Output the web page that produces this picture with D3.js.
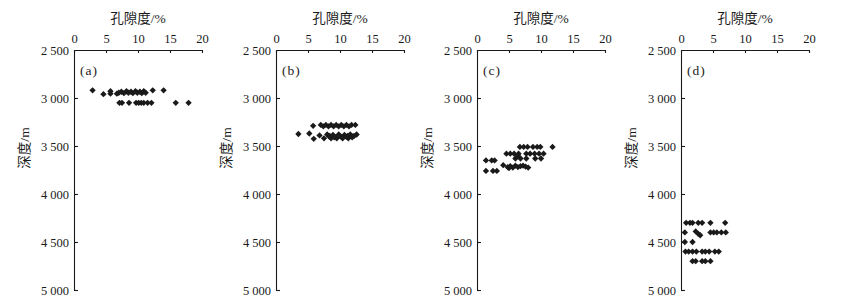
<!DOCTYPE html>
<html>
<head>
<meta charset="utf-8">
<script src="https://cdn.jsdelivr.net/npm/d3@7"></script>
<style>
  body { margin: 0; background: #fff; }
  svg { display: block; }
  text { font-family: "Liberation Serif", "Noto Sans CJK SC", serif; fill: #1a1a1a; }
  .domain, .tick line { stroke: #1a1a1a; stroke-width: 1.1; }
</style>
</head>
<body>
<svg id="chart" width="847" height="308"></svg>
<script>
// tick values
var porosityTicks = [0, 5, 10, 15, 20];
var depthTicks = [2500, 3000, 3500, 4000, 4500, 5000];
var panelLabels = ["(a)", "(b)", "(c)", "(d)"];

// (a) porosity %, depth m
var porosityA = [2.9, 12.3, 14.0, 4.6, 5.7, 5.7, 6.7, 7.0, 7.4, 7.8, 8.2, 8.5, 8.9, 9.2, 9.6, 9.9, 10.3, 10.6, 10.9, 11.2,
                 7.1, 7.5, 8.6, 9.7, 10.1, 10.5, 10.9, 11.5, 12.1, 15.9, 17.9];
var depthA    = [2920, 2920, 2920, 2960, 2930, 2955, 2955, 2945, 2935, 2950, 2930, 2945, 2935, 2950, 2930, 2945, 2935, 2950, 2930, 2945,
                 3050, 3050, 3050, 3050, 3050, 3050, 3050, 3050, 3050, 3050, 3050];

// (b)
var porosityB = [5.8, 7.0, 7.4, 7.8, 8.2, 8.6, 9.0, 9.4, 9.8, 10.2, 10.6, 11.0, 11.4, 11.8, 12.4,
                 3.5, 5.2, 5.9, 6.8, 7.5, 8.0, 8.3, 8.6, 8.9, 9.2, 9.5, 9.8, 10.1, 10.4, 10.7, 11.0, 11.3, 11.6, 11.9, 12.2, 12.6,
                 8.4, 9.1, 9.8, 10.5, 11.2, 11.9];
var depthB    = [3290, 3280, 3295, 3280, 3295, 3280, 3295, 3280, 3295, 3280, 3295, 3280, 3295, 3280, 3280,
                 3375, 3370, 3425, 3390, 3420, 3380, 3400, 3420, 3385, 3405, 3420, 3380, 3400, 3420, 3385, 3405, 3420, 3380, 3400, 3395, 3380,
                 3395, 3410, 3395, 3410, 3395, 3410];

// (c)
var porosityC = [6.7, 7.3, 7.9, 8.75, 9.4, 9.9, 11.8,
                 4.6, 5.2, 5.8, 6.5, 7.7, 8.3, 9.0, 9.7, 10.4,
                 6.0, 6.8, 7.7, 9.1, 10.0, 6.4,
                 1.4, 2.3, 2.75,
                 4.1, 4.8, 5.0, 5.2, 5.6, 6.0, 6.4, 6.8, 7.2, 7.6, 8.0,
                 1.4, 2.5, 3.1];
var depthC    = [3510, 3510, 3510, 3510, 3510, 3510, 3510,
                 3580, 3580, 3580, 3580, 3580, 3580, 3580, 3580, 3580,
                 3630, 3630, 3630, 3630, 3630, 3605,
                 3650, 3650, 3650,
                 3700, 3720, 3730, 3710, 3725, 3705, 3720, 3710, 3705, 3715, 3725,
                 3760, 3760, 3760];

// (d)
var porosityD = [0.8, 1.4, 1.8, 2.7, 3.3, 4.6, 6.9,
                 0.6, 2.3, 2.7, 3.0, 4.6, 5.1, 5.6, 6.3, 7.0,
                 0.6, 1.8,
                 0.7, 1.2, 1.8, 2.4, 3.3, 3.8, 4.4, 5.3, 5.9,
                 1.8, 2.3, 3.3, 3.8, 4.6];
var depthD    = [4300, 4300, 4300, 4300, 4300, 4300, 4300,
                 4400, 4390, 4415, 4430, 4400, 4400, 4400, 4400, 4400,
                 4500, 4500,
                 4600, 4600, 4600, 4600, 4600, 4600, 4600, 4600, 4600,
                 4700, 4700, 4700, 4700, 4700];

var panels = [
    {x: porosityA, y: depthA},
    {x: porosityB, y: depthB},
    {x: porosityC, y: depthC},
    {x: porosityD, y: depthD}
];

var panelLeft = [74, 276, 477, 681];
var plotW = 128, plotTop = 50, plotBottom = 290;

var svg = d3.select("#chart");

var fmtDepth = function (d) {
    return String(d).replace(/\B(?=(\d{3})+$)/, " ");
};

// small square diamond marker
var diamond = {
    draw: function (ctx, size) {
        var r = Math.sqrt(size / 2);
        ctx.moveTo(0, -r);
        ctx.lineTo(r, 0);
        ctx.lineTo(0, r);
        ctx.lineTo(-r, 0);
        ctx.closePath();
    }
};

panels.forEach(function (p, i) {
    var x = d3.scaleLinear().domain([0, 20]).range([0, plotW]);
    var y = d3.scaleLinear().domain([2500, 5000]).range([plotTop, plotBottom]);

    var g = svg.append("g").attr("transform", "translate(" + panelLeft[i] + ",0)");

    g.append("g")
        .attr("transform", "translate(0," + plotTop + ")")
        .call(d3.axisTop(x).tickValues(porosityTicks).tickSizeInner(-3).tickSizeOuter(0).tickPadding(7))
        .call(function (a) { a.selectAll("text").style("font-size", "12.5px"); });

    g.append("g")
        .call(d3.axisLeft(y).tickValues(depthTicks).tickFormat(fmtDepth).tickSizeInner(-4).tickSizeOuter(0).tickPadding(5))
        .call(function (a) {
            a.selectAll("text").style("font-size", "12.5px");
            a.selectAll(".tick").filter(function (d) { return d === 2500; }).select("line").remove();
        });

    g.append("text")
        .attr("x", plotW / 2)
        .attr("y", 23)
        .attr("text-anchor", "middle")
        .style("font-size", "13.5px")
        .text("孔隙度/%");

    g.append("text")
        .attr("transform", "translate(-45,148) rotate(-90)")
        .attr("text-anchor", "middle")
        .style("font-size", "13.5px")
        .text("深度/m");

    g.append("text")
        .attr("x", 6)
        .attr("y", 75)
        .style("font-size", "13.5px")
        .style("letter-spacing", "1px")
        .text(panelLabels[i]);

    var pts = p.x.map(function (v, k) { return [v, p.y[k]]; });

    g.selectAll(".pt")
        .data(pts)
        .enter()
        .append("path")
        .attr("class", "pt")
        .attr("d", d3.symbol().type(diamond).size(20))
        .attr("transform", function (d) { return "translate(" + x(d[0]) + "," + y(d[1]) + ")"; })
        .attr("fill", "#1a1a1a");
});
</script>
</body>
</html>
